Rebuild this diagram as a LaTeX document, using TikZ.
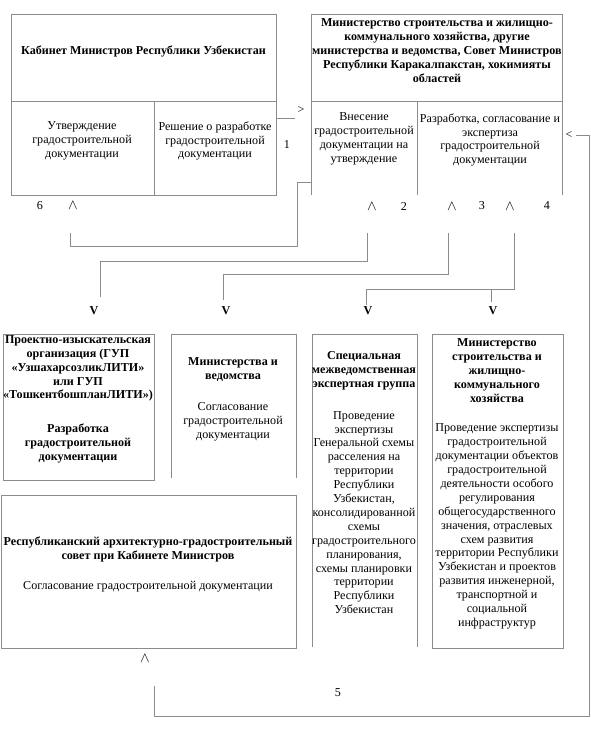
\documentclass[tikz,border=0pt]{standalone}
\usepackage{fontspec}
\setmainfont{Liberation Serif}
\usetikzlibrary{positioning}

\begin{document}
\begin{tikzpicture}[x=1pt, y=-1pt,
		line/.style={draw=black!45, line width=0.8pt},
		frame/.style={line, inner sep=0pt, outer sep=0pt},
		openframe/.style={inner sep=0pt, outer sep=0pt},
		head/.style={font=\fontsize{12.1}{13.9}\selectfont\bfseries, align=center, inner sep=0pt},
		desc/.style={font=\fontsize{12.1}{13.9}\selectfont, align=center, inner sep=0pt},
		sign/.style={font=\fontsize{12.1}{13.9}\selectfont, inner sep=0pt},
		upsign/.style={font=\fontsize{14}{14}\selectfont, inner sep=0pt},
		bigv/.style={sign, font=\fontsize{12.1}{13.9}\selectfont\bfseries}]
				\useasboundingbox (0,0) rectangle (591,731);
				% Boxes of the upper row
				\node[frame, minimum width=265pt, minimum height=181pt] (cab) at (143.5,104.5) {};
				\draw[line] (cab.west |- 0,101) -- (cab.east |- 0,101);
				\draw[line] (154,101) -- (154,195);
				\node[openframe, minimum width=251pt, minimum height=181pt] (min) at (436.5,104.5) {};
				\draw[line] (min.south west) |- (min.north east) -- (min.south east);
				\draw[line] (min.west |- 0,101) -- (min.east |- 0,101);
				\draw[line] (417,101) -- (417,195);
				% Boxes of the lower rows
				\node[frame, minimum width=151pt, minimum height=146pt] (proj) at (78.5,407) {};
				\node[openframe, minimum width=125pt, minimum height=144pt] (mnv) at (233.5,406) {};
				\draw[line] (mnv.south west) |- (mnv.north east) -- (mnv.south east);
				\node[openframe, minimum width=105pt, minimum height=313pt] (spec) at (364.5,490.5) {};
				\draw[line] (spec.south west) |- (spec.north east) -- (spec.south east);
				\node[frame, minimum width=131pt, minimum height=314pt] (mstr) at (497.5,491) {};
				\node[frame, minimum width=295pt, minimum height=153pt] (rep) at (148.5,571.5) {};
				% Texts
				\node[head] (cabT) at (143.5,51) {Кабинет Министров Республики Узбекистан};
				\node[desc] (cabL) at (82,141) {Утверждение\\градостроительной\\документации};
				\node[desc] (cabR) at (215,141) {Решение о разработке\\градостроительной\\документации};
				\node[head] (minT) at (437,50.5) {Министерство строительства и жилищно-\\коммунального хозяйства, другие\\министерства и ведомства, Совет Министров\\Республики Каракалпакстан, хокимияты\\областей};
				\node[desc] (minL) at (364,139) {Внесение\\градостроительной\\документации на\\утверждение};
				\node[desc] (minR) at (490,140) {Разработка, согласование и\\экспертиза\\градостроительной\\документации};
				\node[head] (projT) at (78,368.5) {Проектно-изыскательская\\организация (ГУП\\«УзшахарсозликЛИТИ»\\или ГУП\\«ТошкентбошпланЛИТИ»)};
				\node[head] (projD) at (78,443.5) {Разработка\\градостроительной\\документации};
				\node[head] (mnvT) at (233,370) {Министерства и\\ведомства};
				\node[desc] (mnvD) at (233,422) {Согласование\\градостроительной\\документации};
				\node[head] (specT) at (364,371) {Специальная\\межведомственная\\экспертная группа};
				\node[desc] (specD) at (364,512.5) {Проведение\\экспертизы\\Генеральной схемы\\расселения на\\территории\\Республики\\Узбекистан,\\консолидированной\\схемы\\градостроительного\\планирования,\\схемы планировки\\территории\\Республики\\Узбекистан};
				\node[head] (mstrT) at (497,370.5) {Министерство\\строительства и\\жилищно-\\коммунального\\хозяйства};
				\node[desc] (mstrD) at (497,526.5) {Проведение экспертизы\\градостроительной\\документации объектов\\градостроительной\\деятельности особого\\регулирования\\общегосударственного\\значения, отраслевых\\схем развития\\территории Республики\\Узбекистан и проектов\\развития инженерной,\\транспортной и\\социальной\\инфраструктур};
				\node[head] (repT) at (148,549) {Республиканский архитектурно-градостроительный\\совет при Кабинете Министров};
				\node[desc] (repD) at (148,587) {Согласование градостроительной документации};
				% Connectors
				\coordinate (e1) at (295,118);
				\draw[line] (cab.east |- e1) -- (e1);
				\coordinate (e6) at (70,233);
				\draw[line] (min.west |- 0,182) -| (297,246) -| (e6);
				\coordinate (s2) at (367,233);
				\coordinate (e2) at (100,297);
				\draw[line] (s2) -- ++(0,28) -| (e2);
				\coordinate (s3) at (448,233);
				\coordinate (e3) at (223,300);
				\draw[line] (s3) -- ++(0,41) -| (e3);
				\coordinate (s4) at (514,233);
				\coordinate (e4) at (366,305);
				\coordinate (f4) at (491,302);
				\draw[line] (s4) -- ++(0,56) -| (e4);
				\draw[line] (f4 |- 0,289) -- (f4);
				\coordinate (s5) at (576,135);
				\coordinate (e5) at (154,686);
				\draw[line] (s5) -| (589,716) -| (e5);
				% Arrow signs and numbers
				\node[sign] (a1) at (301,110) {>};
				\node[sign] (n1) at (287,145) {1};
				\node[sign] (n6) at (40,206) {6};
				\node[upsign] (a6) at (73,205) {$\wedge$};
				\node[upsign] (a2) at (372,206) {$\wedge$};
				\node[sign] (n2) at (404,206) {2};
				\node[upsign] (a3) at (452,206) {$\wedge$};
				\node[sign] (n3) at (482,206) {3};
				\node[upsign] (a4) at (510,206) {$\wedge$};
				\node[sign] (n4) at (547,206) {4};
				\node[bigv] (v2) at (94,311) {V};
				\node[bigv] (v3) at (226,311) {V};
				\node[bigv] (v4) at (368,311) {V};
				\node[bigv] (w4) at (493,311) {V};
				\node[sign] (a5) at (569,135) {<};
				\node[upsign] (b5) at (145,658) {$\wedge$};
				\node[sign] (n5) at (338,693) {5};
\end{tikzpicture}
\end{document}
